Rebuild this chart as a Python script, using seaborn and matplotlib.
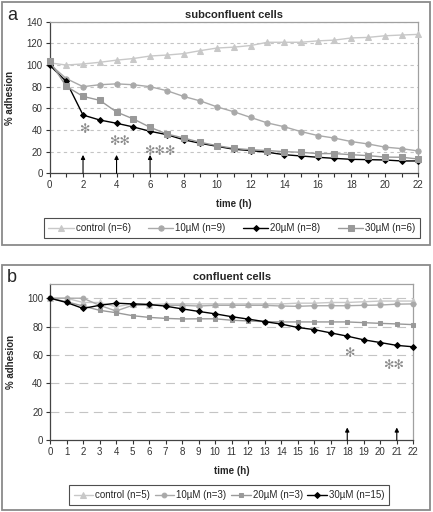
import numpy as np
import pandas as pd
import matplotlib
matplotlib.use("Agg")
import matplotlib.pyplot as plt
import seaborn as sns
from matplotlib.patches import Rectangle

# data (jam 0..22)
hours = list(range(23))

# panel a - subconfluent cells
sub_control = [102, 100, 101, 102.5, 104.5, 106, 108.3, 109.2, 110.5, 113.3, 115.7, 116.5,
               118, 121, 121, 121, 122.3, 123, 125, 125.5, 127, 127.7, 128.3]
sub_10uM = [101, 87.5, 80, 81.8, 82.6, 81.8, 80, 76.3, 71, 66.8, 61.3, 56.8,
            51.6, 46.5, 43, 38.5, 34.9, 32.5, 29.3, 27.1, 24.2, 22.8, 20.6]
sub_20uM = [100, 84.8, 53.8, 49.2, 46.2, 42.8, 38.8, 35.7, 31, 27.7, 24.9, 22.2,
            21, 19.4, 17.2, 16, 14.8, 13.8, 12.9, 12.6, 12.3, 11.4, 11.4]
sub_30uM = [103.7, 80.3, 71, 67.4, 56.6, 50.2, 42.5, 36.3, 32.6, 28.6, 25.5, 23,
            21.8, 21, 20, 19.4, 18.2, 18.2, 17.2, 16.3, 15, 14.8, 13.2]
sub_labels = ["control (n=6)", "10µM (n=9)", "20µM (n=8)", "30µM (n=6)"]
sub_arrows = [2, 4, 6]
sub_stars = [(2.1, 40, "✻"), (4.2, 29, "✻✻"), (6.6, 20, "✻✻✻")]

# panel b - confluent cells
con_control = [100, 100, 97, 97, 94, 96, 95.5, 96, 96, 96, 96, 96,
               96, 96, 96, 96.5, 96.5, 97, 97, 97.5, 98, 98, 98]
con_10uM = [100, 100, 100, 95, 91, 95, 95, 95, 95, 94.5, 95, 95,
            95, 95, 94.5, 94.3, 94.7, 94.7, 94.7, 95, 95.2, 95.8, 96]
con_20uM = [100, 97.5, 94.5, 91.5, 89.8, 87.7, 86.5, 85.8, 85.4, 85.5, 85.5, 84.5,
            84, 83.5, 83.3, 83.3, 83.3, 83.3, 83.3, 82.8, 82.3, 81.9, 81.4]
con_30uM = [100, 97, 92.8, 95, 96.5, 96, 95.6, 94.4, 92.5, 90.7, 89, 87,
            85.3, 83.5, 81.8, 79.4, 77.9, 75.6, 73.3, 70.7, 68.8, 66.8, 65.8]
con_labels = ["control (n=5)", "10µM (n=3)", "20µM (n=3)", "30µM (n=15)"]
con_arrows = [18, 21]
con_stars = [(18.1, 61, "✻"), (20.8, 52.5, "✻✻")]

FONT = ["Liberation Sans", "DejaVu Sans"]
sns.set_style("white")
plt.rcParams["font.family"] = FONT

fig = plt.figure(figsize=(4.33, 5.12), dpi=100)

# kotak abu-abu di sekitar tiap panel
for (y0, h) in [(2, 243), (265, 245)]:
    fig.add_artist(Rectangle((2 / 433, 1 - (y0 + h) / 512), 428 / 433, h / 512,
                             transform=fig.transFigure, fill=False,
                             edgecolor="#8a8a8a", lw=1.3))

ax_a = fig.add_axes([49.5 / 433, 1 - 173.3 / 512, (418.3 - 49.5) / 433, (173.3 - 21.7) / 512])
ax_b = fig.add_axes([50 / 433, 1 - 440.3 / 512, (413.3 - 50) / 433, (440.3 - 284) / 512])


def draw_panel(ax, series, styles, labels, ymax, yticks, xticks, dashes, arrows, arrow_h, stars):
    for vals, (col, mk, ms), lab in zip(series, styles, labels):
        sns.lineplot(x=hours, y=vals, color=col, marker=mk, markersize=ms,
                     markeredgecolor=col, lw=1.0, label=lab, ax=ax, clip_on=False, zorder=3)
    if ax.get_legend():
        ax.get_legend().remove()
    ax.set_xlim(0, 22)
    ax.set_ylim(0, ymax)
    ax.set_yticks(yticks)
    ax.set_xticks(xticks)
    ax.set_xticks(hours, minor=True)
    for y in yticks[1:]:
        ax.axhline(y, color="#c4c4c4", lw=0.8, dashes=dashes, zorder=1)
    ax.tick_params(axis="both", which="both", direction="out", length=3, width=0.8,
                   labelsize=7, colors="#333333", pad=2)
    ax.tick_params(axis="x", which="both", bottom=True)
    ax.tick_params(axis="y", left=True)
    for s in ["left", "bottom"]:
        ax.spines[s].set_color("#444444")
        ax.spines[s].set_linewidth(0.9)
    for s in ["top", "right"]:
        ax.spines[s].set_color("#a0a0a0")
        ax.spines[s].set_linewidth(0.9)
    ax.set_xlabel("time (h)", fontsize=7, fontweight="bold", labelpad=6)
    ax.set_ylabel("% adhesion", fontsize=7, fontweight="bold", labelpad=8)
    for x in arrows:
        ax.annotate("", xy=(x, arrow_h), xytext=(x, 0),
                    arrowprops=dict(arrowstyle="-|>", color="black", lw=0.8,
                                    mutation_scale=6, shrinkA=0, shrinkB=0))
    for x, y, s in stars:
        ax.text(x, y, s, ha="center", va="center", fontsize=9, color="#8a8a8a",
                family=["DejaVu Sans"])


styles_a = [("#c8c8c8", "^", 4.2), ("#a9a9a9", "o", 3.8), ("#000000", "D", 3.0), ("#999999", "s", 3.8)]
draw_panel(ax_a, [sub_control, sub_10uM, sub_20uM, sub_30uM], styles_a, sub_labels,
           140, list(range(0, 141, 20)), list(range(0, 23, 2)), (3, 3),
           sub_arrows, 17, sub_stars)

styles_b = [("#c8c8c8", "^", 3.8), ("#a9a9a9", "o", 3.4), ("#999999", "s", 3.2), ("#000000", "D", 3.0)]
draw_panel(ax_b, [con_control, con_10uM, con_20uM, con_30uM], styles_b, con_labels,
           110, list(range(0, 101, 20)), hours, (8, 5),
           con_arrows, 9, con_stars)

ax_a.set_title("subconfluent cells", fontsize=8, fontweight="bold", pad=3)
ax_b.set_title("confluent cells", fontsize=8, fontweight="bold", pad=3)

fig.text(7 / 433, 1 - 15 / 512, "a", fontsize=13, va="center")
fig.text(7 / 433, 1 - 277 / 512, "b", fontsize=13, va="center")

for ax, center, cs, hl in [(ax_a, (232 / 433, 1 - 228 / 512), 1.8, 2.6),
                           (ax_b, (229 / 433, 1 - 495 / 512), 0.5, 2.0)]:
    h, l = ax.get_legend_handles_labels()
    leg = fig.legend(h, l, loc="center", bbox_to_anchor=center, ncol=4, fontsize=7,
                     frameon=True, fancybox=False, handlelength=hl, handletextpad=0.2,
                     columnspacing=cs, borderpad=0.5)
    leg.get_frame().set_edgecolor("#222222")
    leg.get_frame().set_linewidth(0.8)

fig.savefig("out.png", dpi=100)
